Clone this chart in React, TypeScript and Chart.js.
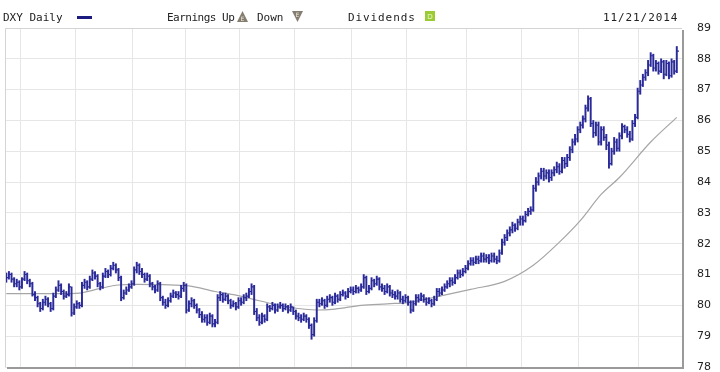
import React, { useEffect, useRef } from "react";
import { Chart, registerables } from "chart.js";

Chart.register(...registerables);

// Daily closes, highs and lows of DXY, 21 Nov 2013 .. 21 Nov 2014 (trading-day index)
const closes = [
  80.9, 81.0, 80.85, 80.7, 80.75, 80.6, 80.85, 81.0, 80.8, 80.7,
  80.35, 80.25, 80.05, 79.9, 80.1, 80.2, 80.05, 79.9, 80.3, 80.5,
  80.65, 80.45, 80.3, 80.35, 80.6, 79.75, 79.95, 80.05, 80.0, 80.65,
  80.75, 80.6, 80.85, 81.05, 80.95, 80.7, 80.6, 80.95, 81.1, 81.0,
  81.2, 81.3, 81.15, 80.9, 80.25, 80.4, 80.5, 80.6, 80.7, 81.15,
  81.3, 81.1, 81.0, 80.85, 80.95, 80.7, 80.6, 80.5, 80.7, 80.25,
  80.1, 80.0, 80.15, 80.3, 80.4, 80.35, 80.3, 80.55, 80.65, 79.85,
  80.05, 80.15, 80.0, 79.85, 79.7, 79.55, 79.6, 79.45, 79.65, 79.4,
  79.45, 80.25, 80.35, 80.2, 80.3, 80.15, 80.0, 80.05, 79.95, 80.15,
  80.1, 80.25, 80.3, 80.45, 80.6, 79.8, 79.6, 79.45, 79.65, 79.55,
  79.95, 79.9, 80.0, 79.85, 79.95, 80.0, 79.9, 79.95, 79.85, 79.95,
  79.8, 79.65, 79.6, 79.55, 79.65, 79.55, 79.35, 79.05, 79.5, 80.1,
  80.05, 80.15, 80.0, 80.2, 80.25, 80.1, 80.3, 80.2, 80.35, 80.4,
  80.3, 80.45, 80.5, 80.45, 80.55, 80.5, 80.6, 80.9, 80.45, 80.55,
  80.8, 80.7, 80.85, 80.6, 80.55, 80.45, 80.6, 80.4, 80.35, 80.3,
  80.4, 80.2, 80.15, 80.25, 80.1, 79.85, 80.05, 80.25, 80.2, 80.3,
  80.2, 80.1, 80.15, 80.05, 80.2, 80.45, 80.4, 80.5, 80.6, 80.7,
  80.8, 80.75, 80.9, 81.05, 81.0, 81.1, 81.2, 81.35, 81.45, 81.4,
  81.5, 81.45, 81.6, 81.5, 81.55, 81.45, 81.6, 81.5, 81.45, 81.7,
  82.05, 82.2, 82.35, 82.45, 82.6, 82.5, 82.7, 82.8, 82.75, 82.95,
  83.05, 83.1, 83.8, 84.0, 84.2, 84.35, 84.2, 84.3, 84.15, 84.3,
  84.4, 84.5, 84.35, 84.7, 84.6, 84.8, 85.05, 85.3, 85.4, 85.7,
  85.85, 86.05, 86.4, 86.7, 85.9, 85.6, 85.85, 85.3, 85.7, 85.45,
  85.2, 84.6, 85.0, 85.3, 85.1, 85.5, 85.8, 85.7, 85.55, 85.4,
  85.9, 86.1, 86.95, 87.15, 87.4, 87.55, 87.8, 88.1, 87.7, 87.85,
  87.6, 87.9, 87.5, 87.85, 87.45, 87.9, 87.6, 88.25,
];

const highs = [
  81.05, 81.1, 81.05, 80.9, 80.85, 80.8, 80.9, 81.1, 81.05, 80.85,
  80.75, 80.45, 80.3, 80.1, 80.2, 80.3, 80.25, 80.1, 80.4, 80.6,
  80.8, 80.7, 80.5, 80.45, 80.7, 80.6, 80.05, 80.15, 80.1, 80.75,
  80.85, 80.8, 80.95, 81.15, 81.1, 81.0, 80.75, 81.05, 81.2, 81.15,
  81.3, 81.4, 81.35, 81.2, 80.95, 80.5, 80.6, 80.7, 80.8, 81.25,
  81.4, 81.35, 81.2, 81.05, 81.05, 81.0, 80.75, 80.65, 80.8, 80.75,
  80.3, 80.2, 80.25, 80.4, 80.5, 80.45, 80.45, 80.65, 80.75, 80.7,
  80.15, 80.25, 80.2, 80.05, 79.9, 79.8, 79.7, 79.7, 79.75, 79.7,
  79.55, 80.35, 80.45, 80.4, 80.4, 80.35, 80.2, 80.15, 80.1, 80.25,
  80.25, 80.35, 80.4, 80.55, 80.7, 80.65, 79.9, 79.7, 79.75, 79.7,
  80.05, 80.0, 80.1, 80.05, 80.05, 80.1, 80.05, 80.05, 80.0, 80.05,
  79.95, 79.85, 79.75, 79.7, 79.75, 79.7, 79.6, 79.4, 79.6, 80.2,
  80.2, 80.25, 80.2, 80.3, 80.35, 80.3, 80.4, 80.35, 80.45, 80.5,
  80.45, 80.55, 80.6, 80.6, 80.65, 80.6, 80.7, 81.0, 80.95, 80.65,
  80.9, 80.85, 80.95, 80.9, 80.7, 80.65, 80.7, 80.65, 80.5, 80.45,
  80.5, 80.45, 80.3, 80.35, 80.3, 80.15, 80.15, 80.35, 80.35, 80.4,
  80.35, 80.25, 80.25, 80.2, 80.3, 80.55, 80.55, 80.6, 80.7, 80.8,
  80.9, 80.9, 81.0, 81.15, 81.15, 81.2, 81.3, 81.45, 81.55, 81.55,
  81.6, 81.6, 81.7, 81.7, 81.65, 81.65, 81.7, 81.7, 81.6, 81.8,
  82.15, 82.3, 82.45, 82.55, 82.7, 82.65, 82.8, 82.9, 82.9, 83.05,
  83.15, 83.2, 83.9, 84.15, 84.3, 84.45, 84.45, 84.4, 84.4, 84.4,
  84.5, 84.65, 84.6, 84.8, 84.8, 84.9, 85.15, 85.4, 85.55, 85.8,
  85.95, 86.15, 86.5, 86.8, 86.75, 86.0, 85.95, 85.95, 85.8, 85.8,
  85.55, 85.3, 85.1, 85.45, 85.4, 85.6, 85.9, 85.85, 85.8, 85.65,
  86.0, 86.2, 87.05, 87.3, 87.5, 87.65, 87.95, 88.2, 88.15, 87.95,
  87.9, 88.0, 87.95, 87.95, 87.9, 88.0, 87.95, 88.4,
];

const lows = [
  80.75, 80.85, 80.75, 80.6, 80.6, 80.5, 80.55, 80.8, 80.7, 80.6,
  80.3, 80.15, 79.95, 79.8, 79.85, 80.0, 79.95, 79.8, 79.85, 80.25,
  80.45, 80.35, 80.2, 80.25, 80.3, 79.65, 79.7, 79.9, 79.9, 79.95,
  80.55, 80.5, 80.55, 80.8, 80.85, 80.6, 80.5, 80.55, 80.9, 80.9,
  80.95, 81.15, 81.05, 80.8, 80.15, 80.2, 80.35, 80.45, 80.55, 80.65,
  81.05, 81.0, 80.9, 80.75, 80.8, 80.6, 80.5, 80.4, 80.45, 80.15,
  80.0, 79.9, 79.95, 80.1, 80.25, 80.25, 80.2, 80.25, 80.45, 79.75,
  79.8, 79.95, 79.9, 79.75, 79.6, 79.45, 79.45, 79.35, 79.4, 79.3,
  79.3, 79.4, 80.15, 80.1, 80.15, 80.05, 79.9, 79.95, 79.85, 79.9,
  80.0, 80.05, 80.15, 80.25, 80.35, 79.7, 79.5, 79.35, 79.4, 79.45,
  79.5, 79.8, 79.85, 79.75, 79.8, 79.9, 79.8, 79.85, 79.75, 79.8,
  79.7, 79.55, 79.5, 79.45, 79.5, 79.45, 79.25, 78.9, 79.0, 79.45,
  79.95, 80.0, 79.9, 79.95, 80.1, 80.0, 80.05, 80.1, 80.15, 80.3,
  80.2, 80.25, 80.4, 80.35, 80.4, 80.4, 80.45, 80.55, 80.35, 80.4,
  80.5, 80.6, 80.65, 80.5, 80.45, 80.35, 80.4, 80.3, 80.25, 80.2,
  80.2, 80.1, 80.05, 80.1, 80.0, 79.75, 79.8, 80.0, 80.1, 80.15,
  80.1, 80.0, 80.05, 79.95, 80.0, 80.15, 80.3, 80.35, 80.45, 80.55,
  80.6, 80.65, 80.7, 80.85, 80.9, 80.95, 81.05, 81.15, 81.3, 81.3,
  81.35, 81.35, 81.4, 81.4, 81.4, 81.35, 81.4, 81.4, 81.35, 81.4,
  81.65, 81.95, 82.1, 82.25, 82.35, 82.4, 82.45, 82.6, 82.6, 82.7,
  82.9, 82.95, 83.05, 83.7, 83.9, 84.1, 84.05, 84.1, 84.0, 84.05,
  84.2, 84.3, 84.25, 84.3, 84.45, 84.5, 84.7, 84.95, 85.2, 85.3,
  85.6, 85.75, 85.95, 86.3, 85.8, 85.45, 85.5, 85.2, 85.2, 85.35,
  85.05, 84.45, 84.55, 84.9, 85.0, 85.0, 85.4, 85.6, 85.45, 85.3,
  85.35, 85.8, 86.05, 86.85, 87.1, 87.3, 87.45, 87.75, 87.6, 87.6,
  87.5, 87.55, 87.35, 87.45, 87.35, 87.4, 87.5, 87.55,
];

// Moving average (grey line), read at these trading-day indices
const maIndex = [0, 10, 20, 28, 36, 43, 50, 60, 70, 80, 88, 97, 109, 119, 126, 136, 146, 155, 165, 178, 191, 202, 212, 220, 228, 235, 247, 257];
const maValues = [80.38, 80.38, 80.38, 80.4, 80.55, 80.66, 80.68, 80.67, 80.63, 80.45, 80.33, 80.15, 79.93, 79.85, 79.88, 80.0, 80.05, 80.1, 80.28, 80.52, 80.78, 81.3, 82.05, 82.75, 83.6, 84.15, 85.3, 86.1];

// Month boundaries (Dec 2013 .. Nov 2014) for the vertical grid
const monthStarts = [5.5, 26.5, 48.5, 68.5, 89.5, 110.5, 132.5, 153.5, 176.5, 197.5, 219.5, 242.5];
const yMin = 78;
const yMax = 89;

const BAR_COLOR = "#2a2a98";

const closeTicks = {
  id: "closeTicks",
  afterDatasetsDraw(chart: any) {
    const { ctx, chartArea, scales } = chart;
    const x = scales.x;
    const y = scales.y;
    ctx.save();
    ctx.beginPath();
    ctx.rect(chartArea.left, chartArea.top, chartArea.right - chartArea.left, chartArea.bottom - chartArea.top);
    ctx.clip();
    ctx.strokeStyle = BAR_COLOR;
    ctx.lineWidth = 1.1;
    ctx.beginPath();
    closes.forEach((c, i) => {
      const px = x.getPixelForValue(i);
      const py = y.getPixelForValue(c);
      ctx.moveTo(px, py);
      ctx.lineTo(px + 2.2, py);
    });
    ctx.stroke();
    ctx.restore();
  },
};

const frame = {
  id: "frame",
  afterDraw(chart: any) {
    const { ctx, chartArea } = chart;
    const { left, top, right, bottom } = chartArea;
    ctx.save();
    ctx.strokeStyle = "#d4d4d4";
    ctx.lineWidth = 1;
    ctx.beginPath();
    ctx.moveTo(left + 0.5, bottom);
    ctx.lineTo(left + 0.5, top + 0.5);
    ctx.lineTo(right, top + 0.5);
    ctx.stroke();
    ctx.fillStyle = "#9a9a9a";
    ctx.fillRect(right, top + 2, 2, bottom - top);
    ctx.fillRect(left + 2, bottom, right - left, 2);
    ctx.restore();
  },
};

function UpIcon() {
  return (
    <svg width="11" height="11" style={{ position: "absolute", left: 237, top: 11 }}>
      <polygon points="5.5,0 11,11 0,11" fill="#857d70" />
      <text x="5.5" y="10" fontSize="6" fill="#ece8dc" textAnchor="middle" fontFamily="DejaVu Sans">E</text>
    </svg>
  );
}

function DownIcon() {
  return (
    <svg width="11" height="11" style={{ position: "absolute", left: 292, top: 11 }}>
      <polygon points="0,0 11,0 5.5,11" fill="#857d70" />
      <text x="5.5" y="6" fontSize="6" fill="#ece8dc" textAnchor="middle" fontFamily="DejaVu Sans">E</text>
    </svg>
  );
}

function DivIcon() {
  return (
    <svg width="10" height="10" style={{ position: "absolute", left: 425, top: 11 }}>
      <rect x="0" y="0" width="10" height="10" fill="#9acb34" />
      <text x="5" y="8" fontSize="7" fill="#eef8d8" textAnchor="middle" fontFamily="DejaVu Sans">D</text>
    </svg>
  );
}

export default function App() {
  const ref = useRef<HTMLCanvasElement | null>(null);

  useEffect(() => {
    if (!ref.current) return;
    const chart = new Chart(ref.current, {
      type: "bar",
      data: {
        datasets: [
          {
            type: "bar",
            label: "DXY",
            data: closes.map((_, i) => ({ x: i, y: [lows[i], highs[i]] })) as any,
            backgroundColor: BAR_COLOR,
            borderWidth: 0,
            barThickness: 1.3,
            grouped: false,
            order: 0,
          } as any,
          {
            type: "line",
            label: "MA",
            data: maIndex.map((xv, k) => ({ x: xv, y: maValues[k] })) as any,
            borderColor: "#a6a6a6",
            borderWidth: 1.2,
            pointRadius: 0,
            cubicInterpolationMode: "monotone",
            order: 1,
          } as any,
        ],
      },
      options: {
        animation: false,
        responsive: false,
        maintainAspectRatio: false,
        layout: { padding: { left: 5, top: 28, right: 0, bottom: 5 } },
        plugins: { legend: { display: false }, tooltip: { enabled: false }, title: { display: false } },
        scales: {
          x: {
            type: "linear",
            min: -0.5,
            max: 259,
            offset: false,
            border: { display: false },
            grid: { color: "#e6e6e6", drawTicks: false, offset: false },
            ticks: { display: false },
            afterBuildTicks: (scale: any) => {
              scale.ticks = monthStarts.map((v) => ({ value: v }));
            },
            afterFit: (scale: any) => {
              scale.height = 0;
            },
          } as any,
          y: {
            position: "right",
            min: yMin,
            max: yMax,
            border: { display: false },
            grid: { color: "#e6e6e6", drawTicks: false },
            ticks: {
              stepSize: 1,
              padding: 15,
              color: "#222",
              font: { family: "DejaVu Sans", size: 11 },
            },
            afterFit: (scale: any) => {
              scale.width = 38;
              scale.paddingTop = 0;
              scale.paddingBottom = 0;
            },
          } as any,
        },
      },
      plugins: [closeTicks, frame],
    });
    return () => chart.destroy();
  }, []);

  const txt: React.CSSProperties = {
    position: "absolute",
    top: 11,
    fontFamily: "'DejaVu Sans Mono', monospace",
    fontSize: 11,
    lineHeight: "13px",
    color: "#222",
    whiteSpace: "nowrap",
  };

  return (
    <div style={{ position: "absolute", left: 0, top: 0, width: 720, height: 372, background: "#fff", overflow: "hidden" }}>
      <canvas ref={ref} width={720} height={372} style={{ position: "absolute", left: 0, top: 0, width: 720, height: 372 }} />
      <span style={{ ...txt, left: 3 }}>DXY Daily</span>
      <div style={{ position: "absolute", left: 77, top: 16, width: 15, height: 3, background: "#1c1c80" }} />
      <span style={{ ...txt, left: 167, letterSpacing: "-0.5px" }}>Earnings Up</span>
      <UpIcon />
      <span style={{ ...txt, left: 257 }}>Down</span>
      <DownIcon />
      <span style={{ ...txt, left: 348, letterSpacing: "0.9px" }}>Dividends</span>
      <DivIcon />
      <span style={{ ...txt, left: 603, letterSpacing: "0.9px" }}>11/21/2014</span>
    </div>
  );
}
